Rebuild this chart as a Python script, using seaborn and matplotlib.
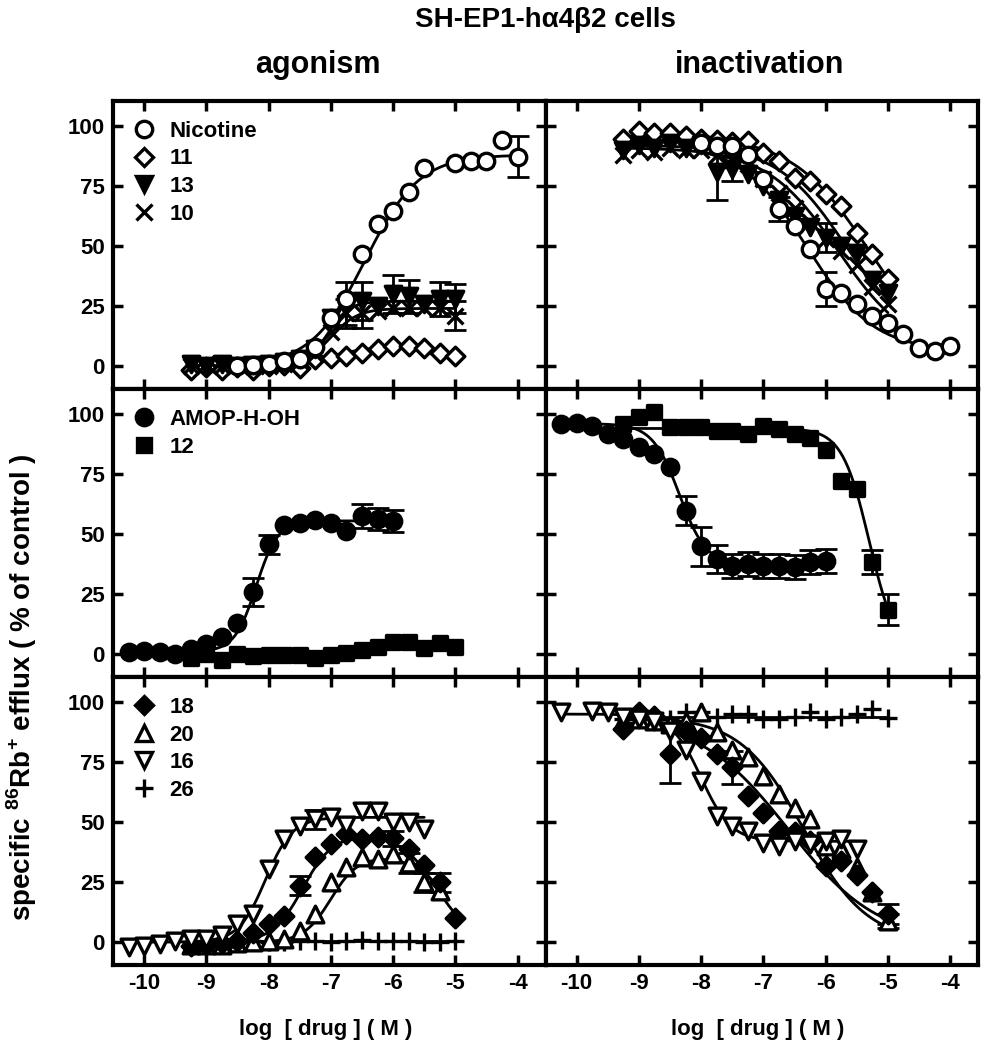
import numpy as np
import pandas as pd
import matplotlib
matplotlib.use("Agg")
import matplotlib.pyplot as plt
from matplotlib.lines import Line2D
import seaborn as sns

# --- data (log M, % of control) ---
G = [-9.25, -9.0, -8.75, -8.5, -8.25, -8.0, -7.75, -7.5, -7.25, -7.0,
     -6.75, -6.5, -6.25, -6.0, -5.75, -5.5, -5.25, -5.0]

# agonism, row 1
nic_ago_x = [-8.5, -8.25, -8.0, -7.75, -7.5, -7.25, -7.0, -6.75, -6.5, -6.25,
             -6.0, -5.75, -5.5, -5.0, -4.75, -4.5, -4.25, -4.0]
nic_ago_y = [0, 0.5, 1, 2, 3, 8, 20, 28, 46.5, 59, 64.6, 72.5, 82.6, 84.7, 85.4, 85.4, 94.2, 87.2]
nic_ago_e = [0, 0, 0, 0, 0, 0, 0, 0, 0, 0, 0, 0, 0, 0, 0, 0, 0, 8.5]
c11_ago_y = [-1.5, -0.5, -1.5, -0.5, -1.5, 0, 0.5, -0.7, 2.8, 3.5, 4.2, 5.6, 7, 8.3, 8.3, 7.6, 5.6, 4.2]
c13_ago_y = [1, 0, 1, 0, 0.5, 1, 1.5, 3, 7, 20, 26, 27, 25, 30, 29, 26, 28, 28]
c13_ago_e = [0, 0, 0, 0, 0, 0, 0, 0, 0, 0, 9, 8, 0, 8, 7, 0, 7, 6]
c10_ago_y = [0, 1, 0, 1, 0, 0, 1, 2, 5, 14, 22, 22, 23, 24, 24, 24, 24, 21]
c10_ago_e = [0, 0, 0, 0, 0, 0, 0, 0, 0, 0, 6, 6, 0, 0, 0, 0, 0, 6]

# inactivation, row 1
nic_ina_x = [-8.0, -7.75, -7.5, -7.25, -7.0, -6.75, -6.5, -6.25, -6.0, -5.75,
             -5.5, -5.25, -5.0, -4.75, -4.5, -4.25, -4.0]
nic_ina_y = [93.1, 91.7, 91.7, 88, 78, 65.3, 58.3, 48.6, 32, 30.6, 25.7, 20.8, 18.1, 13.2, 7.6, 6.25, 8.3]
nic_ina_e = [0, 0, 0, 0, 0, 5, 0, 0, 7, 0, 0, 0, 0, 0, 0, 0, 0]
c11_ina_y = [94.5, 97.9, 97.2, 97.2, 95.8, 94.5, 94, 93.5, 93.75, 88.9, 85.4, 78.5, 77.1, 71.5, 66.7, 55.6, 46.5, 36.1]
c13_ina_y = [90, 92, 91, 93, 91, 92, 81, 82, 80, 75, 69, 62.5, 58, 53.5, 50, 47.3, 36, 30.6]
c13_ina_e = [0, 0, 0, 0, 0, 0, 12, 5, 0, 0, 0, 0, 0, 6, 0, 0, 0, 0]
c10_ina_y = [88, 90, 89, 91, 90, 90, 88, 86, 84, 78, 72, 66, 60, 53, 48, 42, 33, 26]

# row 2
amop_x = [-10.25, -10.0, -9.75, -9.5, -9.25, -9.0, -8.75, -8.5, -8.25, -8.0,
          -7.75, -7.5, -7.25, -7.0, -6.75, -6.5, -6.25, -6.0]
amop_ago_y = [0.7, 1.1, 0.7, 0, 2.1, 4.2, 7.0, 12.9, 25.7, 45.8, 53.8, 54.5, 55.8, 54.6, 51.4, 57.4, 56.3, 55.5]
amop_ago_e = [0, 0, 0, 0, 0, 0, 0, 0, 5.8, 4, 0, 0, 0, 0, 0, 5, 4.5, 4.5]
c12_ago_y = [-1.8, 0, -2.4, 0, -1, -0.4, -0.4, -0.4, -1.7, -0.4, 0.4, 1.8, 2.8, 4.9, 5.1, 2.4, 4.6, 2.8]
amop_ina_y = [95.8, 96.25, 94.9, 91.7, 89.6, 86.1, 83.3, 77.8, 59.7, 44.9, 39.6, 36.8, 37.5, 36.8, 36.5, 36.1, 38.5, 38.9]
amop_ina_e = [0, 0, 0, 0, 0, 0, 0, 0, 6, 8, 5.7, 5, 5, 5, 5, 5, 5, 5]
c12_ina_y = [95.8, 98.6, 101, 94.4, 94.4, 94.4, 93, 93, 91.7, 95.1, 93.75, 91.7, 89.9, 85.1, 72.2, 68.75, 38.2, 18.5]
c12_ina_e = [0, 0, 0, 0, 0, 0, 0, 0, 0, 0, 0, 0, 0, 0, 0, 0, 5, 6.5]

# row 3
c16_ago_x = [-10.25, -10.0, -9.75, -9.5, -9.25, -9.0, -8.75, -8.5, -8.25, -8.0,
             -7.75, -7.5, -7.25, -7.0, -6.75, -6.5, -6.25, -6.0, -5.75, -5.5]
c16_ago_y = [-2.2, -1.5, -0.8, 0.5, 1.25, 1.5, 2.9, 7.5, 11.7, 30.4, 42.9, 48.5, 51.25, 52, 49, 54.7, 54.7, 49.9, 49.9, 47]
c16_ago_e = [0, 0, 0, 0, 0, 0, 0, 0, 0, 0, 0, 0, 4, 0, 0, 0, 0, 0, 0, 0]
c18_ago_y = [-1.5, -1, -0.5, 0.5, 4, 7.5, 11, 23.5, 35.3, 40.8, 45, 42.9, 44, 43.2, 38.75, 32, 24.9, 9.9]
c18_ago_e = [0, 0, 0, 0, 0, 0, 0, 4, 0, 0, 0, 0, 0, 3, 0, 0, 4, 0]
c20_ago_x = [-9.25, -9.0, -8.75, -8.5, -8.25, -8.0, -7.75, -7.5, -7.25, -7.0,
             -6.75, -6.5, -6.25, -6.0, -5.75, -5.5, -5.25]
c20_ago_y = [-1, -1, -1, -0.5, 0, 0.5, 1.5, 4.7, 11.7, 24.9, 31.1, 35.3, 34.6, 36.7, 33, 24.9, 21.4]
c20_ago_e = [0, 0, 0, 0, 0, 0, 0, 0, 0, 0, 0, 0, 0, 0, 4, 4, 0]
c26_ago_y = [0, 0, -0.5, 0, 0.5, 0, 0, 0.5, 0.5, 0, 0.5, 1, 0.5, 0.5, 0.5, 0, 0, 0.5]

c16_ina_x = [-10.25, -9.75, -9.5, -9.25, -9.0, -8.75, -8.5, -8.25, -8.0, -7.75,
             -7.5, -7.25, -7.0, -6.75, -6.5, -6.25, -6.0, -5.75, -5.5]
c16_ina_y = [95.7, 96.4, 95.7, 94, 93, 92, 88, 80, 67, 52.6, 48.5, 46.4, 41.5, 40.1, 42, 41, 42.2, 42.9, 38.75]
c18_ina_y = [88.75, 95.7, 94.3, 78.3, 88, 85, 78.3, 72.8, 61, 54, 46.4, 45.7, 42, 31.8, 34, 28, 20.7, 11.7]
c18_ina_e = [0, 0, 0, 12, 0, 0, 0, 7, 0, 0, 0, 0, 0, 0, 0, 0, 0, 4]
c20_ina_y = [92, 93, 92, 91, 92, 95.8, 87.4, 80, 77, 69.3, 61.7, 56, 51.25, 40.1, 38.75, 31.1, 20.7, 8.9]
c20_ina_e = [0, 0, 0, 0, 0, 0, 0, 0, 0, 0, 0, 0, 0, 0, 0, 0, 0, 3]
c26_ina_y = [93, 93, 93, 93, 95.7, 95.7, 94, 95, 95, 93, 93, 93.75, 95.7, 93, 93.75, 95, 97, 93.3]

# fitted curve parameters: bottom, top, midpoint, slope, second midpoint, second slope
fit_nic_ago = [0, 88, -6.45, 1.0, 0, 0]
fit_11_ago = [0, 8.5, -7.0, 1.2, -4.9, 1.5]
fit_13_ago = [0, 27, -7.05, 2.5, 0, 0]
fit_10_ago = [0, 24, -7.0, 2.0, 0, 0]
fit_nic_ina = [6, 93, -6.3, -0.8, 0, 0]
fit_11_ina = [0, 96, -5.3, -0.7, 0, 0]
fit_13_ina = [10, 92, -5.7, -0.8, 0, 0]
fit_10_ina = [5, 91, -5.8, -0.75, 0, 0]
fit_amop_ago = [1, 55.5, -8.2, 2.5, 0, 0]
fit_12_ago = [-1, 4.5, -6.3, 1.0, 0, 0]
fit_amop_ina = [37, 96, -8.35, -2.0, 0, 0]
fit_12_ina = [0, 94, -5.3, -2.0, 0, 0]
fit_16_ago = [0, 52, -8.05, 2.0, 0, 0]
fit_18_ago = [0, 45, -7.45, 1.8, -5.3, 1.5]
fit_20_ago = [0, 36, -7.0, 2.0, -5.1, 1.5]
fit_26_ago = [0.3, 0.3, -7.0, 1.0, 0, 0]
fit_16_ina = [42, 95, -8.0, -1.8, 0, 0]
fit_18_ina = [0, 94, -6.6, -0.6, 0, 0]
fit_20_ina = [0, 94, -6.35, -0.85, 0, 0]
fit_26_ina = [94, 94, -7.0, 1.0, 0, 0]


def curve(x, p):
    b, t, m, h, m2, h2 = p
    y = b + (t - b) / (1 + 10 ** ((m - x) * h))
    if h2:
        y = y / (1 + 10 ** ((x - m2) * h2))
    return y


# marker styles: (marker, size, filled)
STY = {
    'Nicotine': ('o', 140, False), '11': ('D', 90, False), '13': ('v', 140, True),
    '10': ('x', 130, True), 'AMOP-H-OH': ('o', 140, True), '12': ('s', 100, True),
    '18': ('D', 90, True), '20': ('^', 145, False), '16': ('v', 145, False),
    '26': ('+', 180, True),
}

panels = [
    # (row, col, [(name, x, y, err, fit)])
    (0, 0, [('11', G, c11_ago_y, None, fit_11_ago),
            ('10', G, c10_ago_y, c10_ago_e, fit_10_ago),
            ('13', G, c13_ago_y, c13_ago_e, fit_13_ago),
            ('Nicotine', nic_ago_x, nic_ago_y, nic_ago_e, fit_nic_ago)]),
    (0, 1, [('11', G, c11_ina_y, None, fit_11_ina),
            ('10', G, c10_ina_y, None, fit_10_ina),
            ('13', G, c13_ina_y, c13_ina_e, fit_13_ina),
            ('Nicotine', nic_ina_x, nic_ina_y, nic_ina_e, fit_nic_ina)]),
    (1, 0, [('12', G, c12_ago_y, None, fit_12_ago),
            ('AMOP-H-OH', amop_x, amop_ago_y, amop_ago_e, fit_amop_ago)]),
    (1, 1, [('12', G, c12_ina_y, c12_ina_e, fit_12_ina),
            ('AMOP-H-OH', amop_x, amop_ina_y, amop_ina_e, fit_amop_ina)]),
    (2, 0, [('26', G, c26_ago_y, None, fit_26_ago),
            ('20', c20_ago_x, c20_ago_y, c20_ago_e, fit_20_ago),
            ('18', G, c18_ago_y, c18_ago_e, fit_18_ago),
            ('16', c16_ago_x, c16_ago_y, c16_ago_e, fit_16_ago)]),
    (2, 1, [('26', G, c26_ina_y, None, fit_26_ina),
            ('20', G, c20_ina_y, c20_ina_e, fit_20_ina),
            ('18', G, c18_ina_y, c18_ina_e, fit_18_ina),
            ('16', c16_ina_x, c16_ina_y, None, fit_16_ina)]),
]
legend_order = [['Nicotine', '11', '13', '10'], ['AMOP-H-OH', '12'], ['18', '20', '16', '26']]

sns.set_theme(style='ticks', rc={
    'axes.edgecolor': 'black', 'text.color': 'black', 'axes.labelcolor': 'black',
    'xtick.color': 'black', 'ytick.color': 'black', 'axes.unicode_minus': False,
})
plt.rcParams['font.family'] = ['Liberation Sans', 'DejaVu Sans']
plt.rcParams['font.weight'] = 'bold'
plt.rcParams['mathtext.fontset'] = 'custom'
plt.rcParams['mathtext.rm'] = 'Liberation Sans:bold'
plt.rcParams['mathtext.bf'] = 'Liberation Sans:bold'

fig, axes = plt.subplots(3, 2, figsize=(9.87, 10.5), dpi=100, sharex=True, sharey=True)
fig.subplots_adjust(left=0.1145, right=0.991, top=0.904, bottom=0.081, wspace=0, hspace=0)

for r, c, series in panels:
    ax = axes[r, c]
    for name, x, y, e, p in series:
        mk, s, filled = STY[name]
        xs = np.linspace(min(x), max(x), 200)
        sns.lineplot(x=xs, y=curve(xs, p), ax=ax, color='black', lw=2, zorder=2)
        if e is not None:
            d = pd.DataFrame({'x': x, 'y': y, 'e': e})
            d = d[d.e > 0]
            ax.errorbar(d.x, d.y, yerr=d.e, fmt='none', ecolor='black', elinewidth=2,
                        capsize=8, capthick=2, zorder=2)
        if mk in ('x', '+'):
            sns.scatterplot(x=x, y=y, ax=ax, marker=mk, s=s, color='black', linewidth=2.4, zorder=3)
        else:
            sns.scatterplot(x=x, y=y, ax=ax, marker=mk, s=s,
                            color='black' if filled else 'white',
                            edgecolor='black', linewidth=2.4, zorder=3)
    if c == 0:
        names = legend_order[r]
        handles = []
        for n in names:
            mk, s, filled = STY[n]
            handles.append(Line2D([], [], ls='none', marker=mk, markersize=np.sqrt(s),
                                  markerfacecolor='black' if filled else 'white',
                                  markeredgecolor='black', markeredgewidth=2.4, color='black'))
        ax.legend(handles, names, loc='upper left', frameon=False, handletextpad=0.65,
                  labelspacing=0.3, borderaxespad=0.5, handlelength=1.0,
                  prop={'weight': 'bold', 'size': 16})

for ax in axes.flat:
    ax.set_xlim(-10.5, -3.55)
    ax.set_ylim(-9.5, 110.5)
    ax.set_xticks([-10, -9, -8, -7, -6, -5, -4])
    ax.set_yticks([0, 25, 50, 75, 100])
    ax.tick_params(direction='in', length=7, width=2.5, top=True, right=True,
                   labelsize=16, pad=6)
    for sp in ax.spines.values():
        sp.set_linewidth(3)
    for lab in ax.get_xticklabels() + ax.get_yticklabels():
        lab.set_fontweight('bold')
    ax.set_xlabel('')
    ax.set_ylabel('')

fig.text(0.553, 0.981, 'SH-EP1-h\u03b14\u03b22 cells', ha='center', va='center',
         fontsize=20, fontweight='bold')
fig.text(0.322, 0.938, 'agonism', ha='center', va='center', fontsize=22, fontweight='bold')
fig.text(0.77, 0.938, 'inactivation', ha='center', va='center', fontsize=22, fontweight='bold')
fig.text(0.022, 0.345, r'specific $^{86}$Rb$^{+}$ efflux ( % of control )', rotation=90,
         ha='center', va='center', fontsize=20, fontweight='bold')
fig.text(0.33, 0.02, 'log  [ drug ] ( M )', ha='center', va='center', fontsize=16, fontweight='bold')
fig.text(0.768, 0.02, 'log  [ drug ] ( M )', ha='center', va='center', fontsize=16, fontweight='bold')

fig.savefig('out.png', dpi=100)
